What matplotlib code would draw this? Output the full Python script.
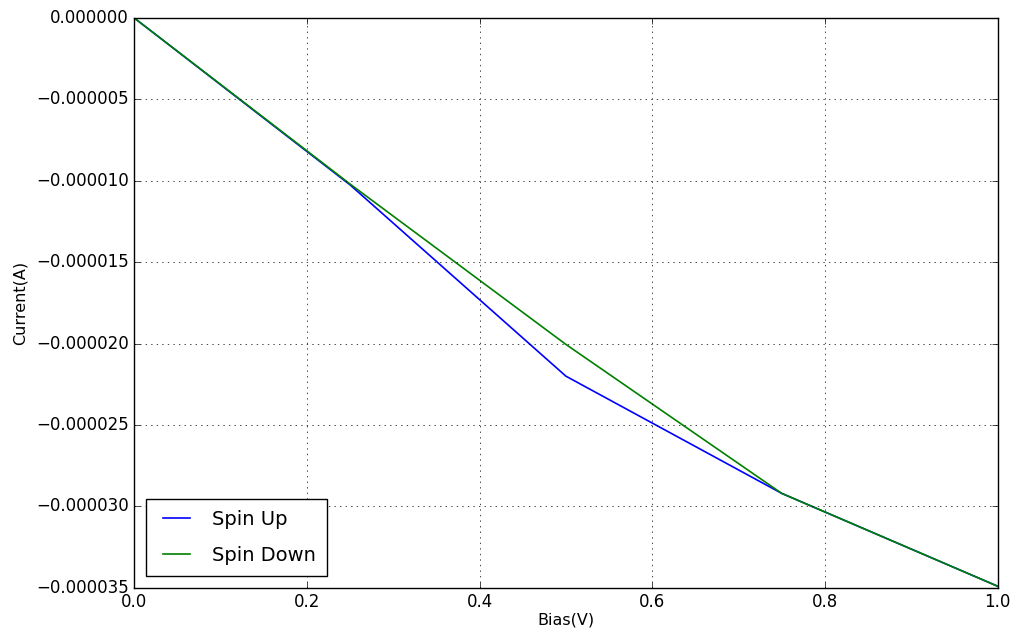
import matplotlib
matplotlib.use('Agg')
import matplotlib.pyplot as plt

# I-V data for each spin channel
bias = [0.0, 0.25, 0.5, 0.75, 1.0]
current_up = [0.0, -10.25e-6, -22.0e-6, -29.2e-6, -34.9e-6]
current_down = [0.0, -10.2e-6, -20.05e-6, -29.2e-6, -34.9e-6]

plt.style.use('classic')

fig = plt.figure(figsize=(10.16, 6.39), dpi=100)
ax = fig.add_axes([0.132, 0.080, 0.850, 0.892])

ax.plot(bias, current_up, color='b', lw=1.2, label='Spin Up')
ax.plot(bias, current_down, color='g', lw=1.2, label='Spin Down')

ax.set_xlim(0.0, 1.0)
ax.set_ylim(-35e-6, 0.0)
ax.set_yticks([0.0, -5e-6, -10e-6, -15e-6, -20e-6, -25e-6, -30e-6, -35e-6])
ax.set_yticklabels(['0.000000', '\u22120.000005', '\u22120.000010', '\u22120.000015',
                    '\u22120.000020', '\u22120.000025', '\u22120.000030', '\u22120.000035'])
ax.tick_params(labelsize=12)
ax.grid(True)

ax.set_xlabel('Bias(V)', fontsize=11.5, labelpad=1)
ax.set_ylabel('Current(A)', fontsize=11.5, labelpad=6)

ax.legend(loc='lower left', fontsize=14, labelspacing=0.86,
          borderpad=0.58, borderaxespad=0.6)

fig.savefig('out.png', dpi=100)
